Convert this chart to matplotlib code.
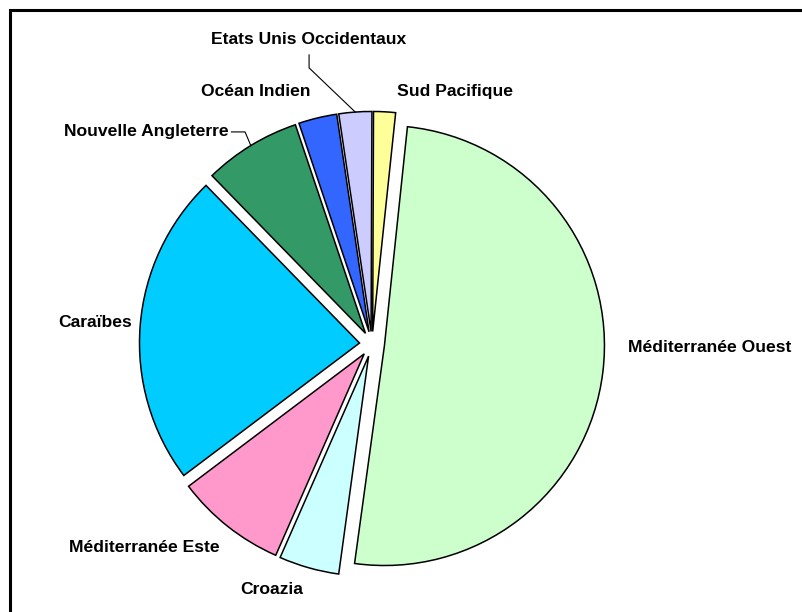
import matplotlib.pyplot as plt
from matplotlib.patches import Rectangle
import numpy as np

plt.rcParams['font.family'] = ['Liberation Sans', 'DejaVu Sans']

# parts des destinations (%)
regions = ["Méditerranée Ouest", "Croazia", "Méditerranée Este", "Caraïbes",
           "Nouvelle Angleterre", "Océan Indien", "Etats Unis Occidentaux",
           "Sud Pacifique"]
shares = [50.3, 4.4, 8.1, 22.9, 7.1, 2.8, 2.4, 1.6]
colors = ["#CCFFCC", "#CCFFFF", "#FF99CC", "#00CCFF",
          "#339966", "#3366FF", "#CCCCFF", "#FFFF99"]

# position des étiquettes (centre du texte, unités du camembert)
label_pos = [(1.164, -0.015), (-0.455, -1.114), (-1.036, -0.923), (-1.257, 0.10),
             (-1.025, 0.964), (-0.528, 1.15), (-0.286, 1.382), (0.379, 1.15)]
label_ha = ["left", "center", "center", "center", "center", "center", "center", "center"]

explode = 0.057

fig = plt.figure(figsize=(8.03, 6.12), dpi=100)
ax = fig.add_axes([0, 0, 1, 1])

wedges, _ = ax.pie(
    shares,
    colors=colors,
    explode=[explode] * len(shares),
    startangle=84,
    counterclock=False,
    radius=1.0,
    wedgeprops={"edgecolor": "black", "linewidth": 1.1},
)

for name, (x, y), ha in zip(regions, label_pos, label_ha):
    ax.text(x, y, name, ha=ha, va="center", fontsize=12.6, fontweight="bold")


def edge_point(w):
    # milieu de l'arc extérieur de la part (décalée)
    mid = np.deg2rad((w.theta1 + w.theta2) / 2)
    cx, cy = w.center
    return cx + w.r * np.cos(mid), cy + w.r * np.sin(mid)


# traits de rappel pour les petites parts
px, py = edge_point(wedges[4])
ax.plot([-0.639, -0.577, px], [0.964, 0.964, py], color="black", lw=0.8)
px, py = edge_point(wedges[6])
ax.plot([-0.286, -0.286, px], [1.314, 1.255, py], color="black", lw=0.8)

ax.set_xlim(-372 / 220, (803 - 372) / 220)
ax.set_ylim(-(612 - 344) / 220, 344 / 220)
ax.set_aspect("auto")
ax.axis("off")

# cadre du graphique
fig.patches.append(Rectangle((10.5 / 803, -0.1), 1.2, (602.3 / 612) + 0.1,
                             transform=fig.transFigure, fill=False,
                             edgecolor="black", linewidth=2.2))

plt.savefig("out.png", dpi=100)
